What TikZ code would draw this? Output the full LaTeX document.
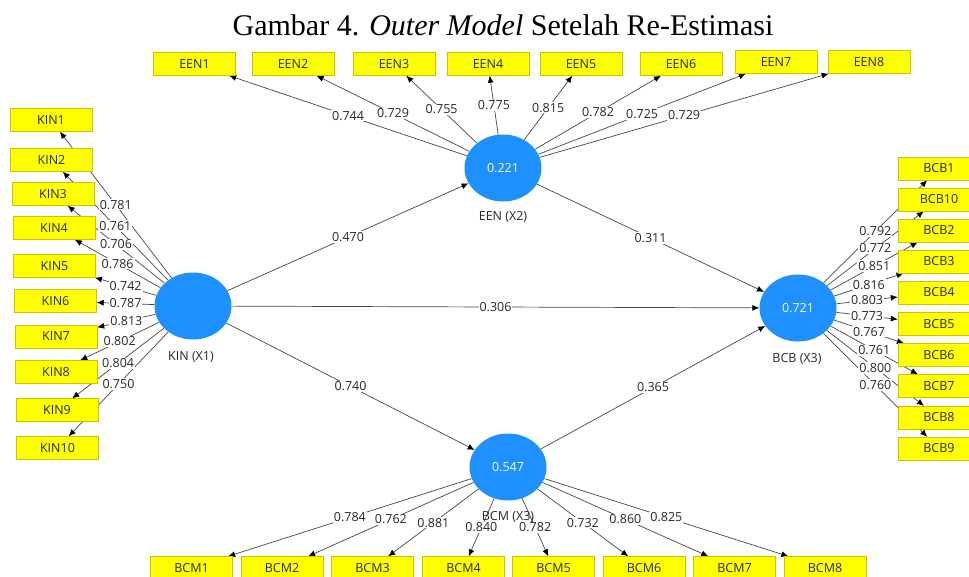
\documentclass[tikz,border=0pt]{standalone}
\usepackage{fontspec}
\setmainfont{Liberation Serif}
\newfontfamily\plsfont{Open Sans}
\usepackage{xcolor}
\usepackage{tikz}
\definecolor{plsblue}{RGB}{30, 144, 255}
\definecolor{plsyellow}{RGB}{255, 255, 0}
\definecolor{plsborder}{RGB}{205, 195, 0}
\definecolor{plsline}{RGB}{70, 70, 70}
\definecolor{plstext}{RGB}{40, 40, 40}
\usetikzlibrary{arrows.meta,positioning,shapes.geometric,backgrounds}

% line under the boxes, value on top of the lines
\newcommand{\loadarrow}[3]{%
  \begin{pgfonlayer}{background}
    \draw[loadline] (#1) -- (#2);
  \end{pgfonlayer}
  \path (#1) -- (#2) node[midway, value] {#3};
}

\begin{document}
\begin{tikzpicture}[x=1pt, y=-1pt, every node/.style={font=\plsfont\fontsize{12.5}{14}\selectfont}]
    % Define styles
    \tikzstyle{indicator} = [rectangle, draw=plsborder, fill=plsyellow, text=plstext,
                             minimum width=82pt, minimum height=23pt, inner sep=0pt]
    \tikzstyle{latent} = [ellipse, fill=plsblue, text=white,
                          minimum width=77pt, minimum height=67pt, inner sep=0pt]
    \tikzstyle{latname} = [text=plstext, inner sep=1pt]
    \tikzstyle{loadline} = [-{Latex[length=7pt,width=6pt,color=black]}, draw=plsline, line width=0.7pt]
    \tikzstyle{value} = [fill=white, text=plstext, inner sep=1pt]

    \useasboundingbox (0,0) rectangle (969,576);
    \clip (0,0) rectangle (969,576);

    % Title
    \node[font=\rmfamily\fontsize{30}{34}\selectfont, anchor=base] (title) at (503,35)
        {Gambar 4. \textit{Outer Model} Setelah Re-Estimasi};

    % Latent variables
    \node[latent] (kin) at (193,306) {};
    \node[latent] (een) at (503,168) {0.221};
    \node[latent] (bcm) at (508,467) {0.547};
    \node[latent] (bcb) at (798,308) {0.721};
    \node[latname] (kinname) at (191,357) {KIN (X1)};
    \node[latname] (eenname) at (503,217) {EEN (X2)};
    \node[latname] (bcmname) at (508,517) {BCM (X3)};
    \node[latname] (bcbname) at (797,359) {BCB (X3)};

    % KIN indicators
    \node[indicator] (kin1) at (51,120) {KIN1};
    \node[indicator] (kin2) at (51.5,160) {KIN2};
    \node[indicator] (kin3) at (53,194) {KIN3};
    \node[indicator] (kin4) at (54,228) {KIN4};
    \node[indicator] (kin5) at (54.5,266) {KIN5};
    \node[indicator] (kin6) at (55.5,301) {KIN6};
    \node[indicator] (kin7) at (56,336.5) {KIN7};
    \node[indicator] (kin8) at (56,372) {KIN8};
    \node[indicator] (kin9) at (57,410) {KIN9};
    \node[indicator] (kin10) at (57.5,448) {KIN10};

    % EEN indicators
    \node[indicator] (een1) at (194.5,64) {EEN1};
    \node[indicator] (een2) at (293,64) {EEN2};
    \node[indicator] (een3) at (394,64) {EEN3};
    \node[indicator] (een4) at (488,64) {EEN4};
    \node[indicator] (een5) at (581,64) {EEN5};
    \node[indicator] (een6) at (681,64) {EEN6};
    \node[indicator] (een7) at (776,62) {EEN7};
    \node[indicator] (een8) at (869,62) {EEN8};

    % BCB indicators
    \node[indicator] (bcb1) at (939,168.5) {BCB1};
    \node[indicator] (bcb10) at (939,199.5) {BCB10};
    \node[indicator] (bcb2) at (939,230.5) {BCB2};
    \node[indicator] (bcb3) at (939,261.5) {BCB3};
    \node[indicator] (bcb4) at (939,292.5) {BCB4};
    \node[indicator] (bcb5) at (939,324) {BCB5};
    \node[indicator] (bcb6) at (939,355) {BCB6};
    \node[indicator] (bcb7) at (939,386) {BCB7};
    \node[indicator] (bcb8) at (939,417.5) {BCB8};
    \node[indicator] (bcb9) at (939,448.5) {BCB9};

    % BCM indicators
    \node[indicator] (bcm1) at (191.5,568) {BCM1};
    \node[indicator] (bcm2) at (282,568) {BCM2};
    \node[indicator] (bcm3) at (372.5,568) {BCM3};
    \node[indicator] (bcm4) at (463.5,568) {BCM4};
    \node[indicator] (bcm5) at (553.5,568) {BCM5};
    \node[indicator] (bcm6) at (644,568) {BCM6};
    \node[indicator] (bcm7) at (734.5,568) {BCM7};
    \node[indicator] (bcm8) at (825,568) {BCM8};

    % Outer loadings
    \loadarrow{kin}{kin1}{0.781}
    \loadarrow{kin}{kin2}{0.761}
    \loadarrow{kin}{kin3}{0.706}
    \loadarrow{kin}{kin4}{0.786}
    \loadarrow{kin}{kin5}{0.742}
    \loadarrow{kin}{kin6}{0.787}
    \loadarrow{kin}{kin7}{0.813}
    \loadarrow{kin}{kin8}{0.802}
    \loadarrow{kin}{kin9}{0.804}
    \loadarrow{kin}{kin10}{0.750}

    \loadarrow{een}{een1}{0.744}
    \loadarrow{een}{een2}{0.729}
    \loadarrow{een}{een3}{0.755}
    \loadarrow{een}{een4}{0.775}
    \loadarrow{een}{een5}{0.815}
    \loadarrow{een}{een6}{0.782}
    \loadarrow{een}{een7}{0.725}
    \loadarrow{een}{een8}{0.729}

    \loadarrow{bcb}{bcb1}{0.792}
    \loadarrow{bcb}{bcb10}{0.772}
    \loadarrow{bcb}{bcb2}{0.851}
    \loadarrow{bcb}{bcb3}{0.816}
    \loadarrow{bcb}{bcb4}{0.803}
    \loadarrow{bcb}{bcb5}{0.773}
    \loadarrow{bcb}{bcb6}{0.767}
    \loadarrow{bcb}{bcb7}{0.761}
    \loadarrow{bcb}{bcb8}{0.800}
    \loadarrow{bcb}{bcb9}{0.760}

    \loadarrow{bcm}{bcm1}{0.784}
    \loadarrow{bcm}{bcm2}{0.762}
    \loadarrow{bcm}{bcm3}{0.881}
    \loadarrow{bcm}{bcm4}{0.840}
    \loadarrow{bcm}{bcm5}{0.782}
    \loadarrow{bcm}{bcm6}{0.732}
    \loadarrow{bcm}{bcm7}{0.860}
    \loadarrow{bcm}{bcm8}{0.825}

    % Path coefficients
    \loadarrow{kin}{een}{0.470}
    \loadarrow{kin}{bcb}{0.306}
    \loadarrow{kin}{bcm}{0.740}
    \loadarrow{een}{bcb}{0.311}
    \loadarrow{bcm}{bcb}{0.365}
\end{tikzpicture}
\end{document}
